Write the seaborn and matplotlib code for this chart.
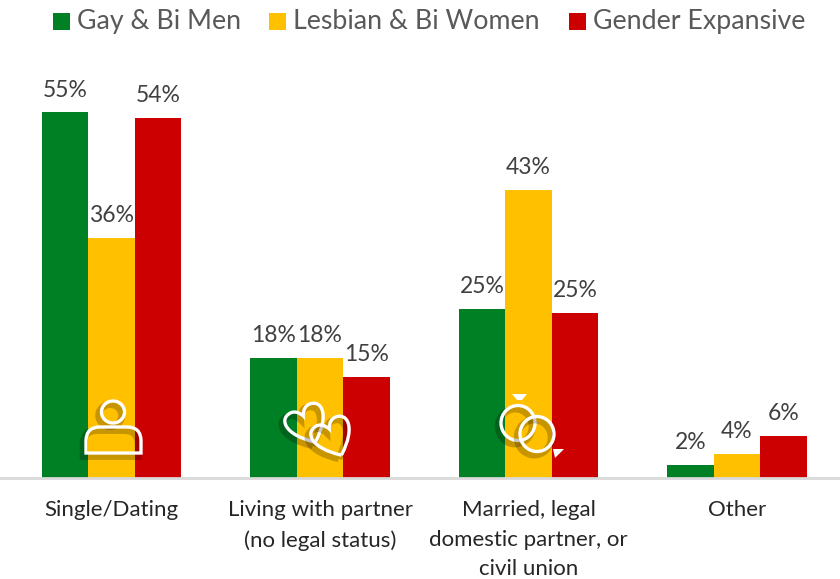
import numpy as np
import pandas as pd
import seaborn as sns
import matplotlib.pyplot as plt
import matplotlib.patheffects as pe
from matplotlib.patches import Ellipse, PathPatch, Polygon, Rectangle
from matplotlib.path import Path
from matplotlib.transforms import Affine2D

categories = ['Single/Dating', 'Living with partner\n(no legal status)',
              'Married, legal\ndomestic partner, or\ncivil union', 'Other']
groups = ['Gay & Bi Men', 'Lesbian & Bi Women', 'Gender Expansive']
gay_bi_men = [54.8, 18.0, 25.4, 2.0]
lesbian_bi_women = [36.0, 18.0, 43.2, 3.6]
gender_expansive = [54.0, 15.2, 24.7, 6.3]
colors = ['#008024', '#FFC000', '#CC0000']

df = pd.DataFrame({'cat': categories * 3,
                   'group': np.repeat(groups, 4),
                   'val': gay_bi_men + lesbian_bi_women + gender_expansive})

sns.set_style('white')
plt.rcParams['font.family'] = ['Lato', 'DejaVu Sans']
fig = plt.figure(figsize=(8.4, 5.79), dpi=100)
ax = fig.add_axes([0, 101 / 579, 1, 478 / 579])
sns.barplot(data=df, x='cat', y='val', hue='group', palette=colors, hue_order=groups,
            width=0.667, saturation=1, legend=False, linewidth=0, edgecolor='none', ax=ax)

# category slots are 208.5px wide, first one centred at x=111.5
ax.set_xlim(-111.5 / 208.5, (840 - 111.5) / 208.5)
ax.set_ylim(0, 478 / 6.67)
sns.despine(left=True)
ax.spines['bottom'].set_color('#D9D9D9')
ax.spines['bottom'].set_linewidth(2)
ax.set_xlabel('')
ax.set_ylabel('')
ax.set_yticks([])
ax.set_xticks(range(4))
ax.set_xticklabels(categories, linespacing=1.6)
ax.tick_params(axis='x', length=0, pad=16, labelsize=16, labelcolor='#262626')

for cont in ax.containers:
    ax.bar_label(cont, fmt='%.0f%%', padding=8.5, fontsize=16.5, color='#404040')


# white icons, placed in figure pixels
def px(x, y):
    return (x / 840, 1 - y / 579)


shadow = [pe.SimpleLineShadow(offset=(-2, -2.5), shadow_color='black', alpha=0.22, linewidth=5), pe.Normal()]
tr = fig.transFigure
ring = dict(fill=False, ec='white', lw=2.4, transform=tr, clip_on=False, path_effects=shadow)

# person
fig.add_artist(Ellipse(px(113, 412), 23 / 840, 22 / 579, **ring))
verts = [px(86, 453), px(86, 441), px(86, 427), px(100, 427), px(127, 427),
         px(141, 427), px(141, 441), px(141, 453), px(86, 453)]
codes = [Path.MOVETO, Path.LINETO, Path.CURVE3, Path.CURVE3, Path.LINETO,
         Path.CURVE3, Path.CURVE3, Path.LINETO, Path.CLOSEPOLY]
fig.add_artist(PathPatch(Path(verts, codes), **ring))


# two tilted hearts
def heart(cx, cy, s, angle):
    pts = [(0, 1.0), (-1.3, 0.0), (-1.15, -0.85), (-0.5, -0.85), (-0.15, -0.85),
           (0, -0.45), (0, -0.45), (0, -0.45), (0.15, -0.85), (0.5, -0.85),
           (1.15, -0.85), (1.3, 0.0), (0, 1.0)]
    rot = Affine2D().rotate_deg(angle).transform(np.array(pts) * s)
    v = [px(cx + a, cy + b) for a, b in rot]
    c = [Path.MOVETO] + [Path.CURVE4] * 12
    return PathPatch(Path(v, c), **ring)


fig.add_artist(heart(307, 424, 20, -25))
fig.add_artist(heart(333, 437, 20, -25))

# wedding rings
fig.add_artist(Ellipse(px(518, 423), 34 / 840, 35 / 579, **ring))
fig.add_artist(Ellipse(px(537, 434), 34 / 840, 35 / 579, **ring))
fig.add_artist(Polygon([px(512, 394), px(527, 394), px(522, 400), px(517, 400)],
                       fc='white', ec='none', transform=tr))
fig.add_artist(Polygon([px(553, 449), px(564, 449), px(555, 458)], fc='white', ec='none', transform=tr))

# legend
x_sq = [53, 269, 569]
for xs, g, c in zip(x_sq, groups, colors):
    fig.add_artist(Rectangle(px(xs, 30), 17 / 840, 17 / 579, fc=c, ec='none', transform=tr))
    fig.text((xs + 24) / 840, 1 - 21.5 / 579, g, fontsize=19.3, color='#595959', va='center', ha='left')

fig.savefig('out.png', dpi=100)
